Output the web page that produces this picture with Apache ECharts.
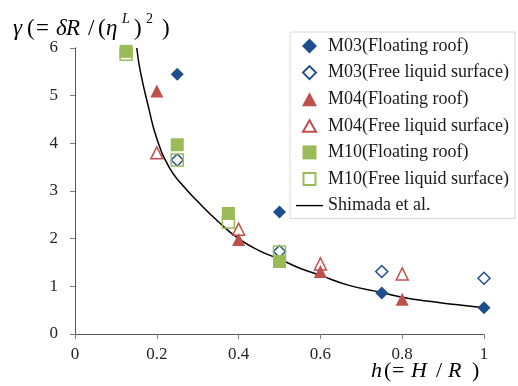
<!DOCTYPE html>
<html>
<head>
<meta charset="utf-8">
<script src="https://cdn.jsdelivr.net/npm/echarts@6/dist/echarts.min.js"></script>
<style>
  html, body { margin: 0; padding: 0; background: #fff; }
  #chart { width: 518px; height: 386px; }
</style>
</head>
<body>
<div id="chart"></div>
<script>
  // h = H/R positions of each model
  var hM03 = [0.25, 0.5, 0.75, 1.0];
  var hM04 = [0.2, 0.4, 0.6, 0.8];
  var hM10 = [0.125, 0.25, 0.375, 0.5];

  var m03Roof = [5.45, 2.56, 0.86, 0.55];
  var m03Free = [3.65, 1.73, 1.31, 1.17];
  var m04Roof = [5.1, 1.98, 1.31, 0.73];
  var m04Free = [3.8, 2.2, 1.47, 1.26];
  var m10Roof = [5.93, 3.97, 2.53, 1.52];
  var m10Free = [5.87, 3.65, 2.35, 1.72];

  // Shimada et al. curve
  var shimadaH = [0.151, 0.16, 0.18, 0.2, 0.23, 0.26, 0.3, 0.35, 0.4, 0.45, 0.5, 0.55, 0.6, 0.67, 0.75, 0.8, 0.86, 0.93, 1.0];
  var shimadaG = [6.0, 5.5, 4.75, 4.1, 3.5, 3.15, 2.78, 2.36, 2.0, 1.75, 1.57, 1.38, 1.23, 1.02, 0.87, 0.77, 0.69, 0.62, 0.55];

  var xTicks = [0, 0.2, 0.4, 0.6, 0.8, 1];
  var yTicks = [0, 1, 2, 3, 4, 5, 6];

  var names = [
    'M03(Floating roof)', 'M03(Free liquid surface)',
    'M04(Floating roof)', 'M04(Free liquid surface)',
    'M10(Floating roof)', 'M10(Free liquid surface)',
    'Shimada et al.'
  ];

  function pairs(xs, ys) {
    return xs.map(function (x, i) { return [x, ys[i]]; });
  }

  var blue = '#1F4E8C';
  var red = '#C0504D';
  var green = '#9BBB59';
  var serif = '"Liberation Serif", "DejaVu Serif", serif';

  function filled(name, xs, ys, symbol, color, size) {
    return {
      name: name, type: 'scatter', data: pairs(xs, ys),
      symbol: symbol, symbolSize: size,
      itemStyle: { color: color, opacity: 1 }
    };
  }
  function hollow(name, xs, ys, symbol, color, size) {
    return {
      name: name, type: 'scatter', data: pairs(xs, ys),
      symbol: symbol, symbolSize: size,
      itemStyle: { color: 'rgba(255,255,255,0)', borderColor: color, borderWidth: 1.5, opacity: 1 }
    };
  }

  // one glyph of an equation-style title
  function glyph(t, x, y, size, italic) {
    return {
      type: 'text', x: x, y: y,
      style: {
        text: t, fill: '#000', verticalAlign: 'middle',
        font: (italic ? 'italic ' : '') + size + 'px ' + serif
      }
    };
  }

  // legend icons padded to the full 27x15 icon box so they keep their shape
  var pad = 'M0,0M27,15';
  var legendIcons = [
    'path://' + pad + 'M13.5,0L21,7.5L13.5,15L6,7.5Z',
    'path://' + pad + 'M13.5,1L20,7.5L13.5,14L7,7.5Z',
    'path://' + pad + 'M13.5,0.5L21,14.5L6,14.5Z',
    'path://' + pad + 'M13.5,2L20,13.5L7,13.5Z',
    'path://' + pad + 'M6.5,0.5H20.5V14.5H6.5Z',
    'path://' + pad + 'M7.5,1.5H19.5V13.5H7.5Z',
    'path://M0,6.8H27V8.2H0Z'
  ];
  var legendData = names.map(function (n, i) {
    return { name: n, icon: legendIcons[i] };
  });

  var chart = echarts.init(document.getElementById('chart'));
  chart.setOption({
    animation: false,
    grid: { left: 75, right: 34, top: 48, bottom: 52 },
    xAxis: [{
      type: 'value', min: 0, max: 1, interval: 0.2,
      axisLine: { lineStyle: { color: '#A0A0A0', width: 1 } },
      axisTick: { length: 5, lineStyle: { color: '#808080' } },
      axisLabel: {
        margin: 12, color: '#262626', fontFamily: serif, fontSize: 17,
        formatter: function (v) { return xTicks.indexOf(v) >= 0 ? String(v) : ''; }
      },
      splitLine: { show: false }
    }, {
      type: 'value', position: 'top', min: 0, max: 1,
      axisLine: { show: true, lineStyle: { color: '#595959', width: 1 } },
      axisTick: { show: false }, axisLabel: { show: false }, splitLine: { show: false }
    }],
    yAxis: [{
      type: 'value', min: 0, max: 6, interval: 1,
      axisLine: { show: true, lineStyle: { color: '#A0A0A0', width: 1 } },
      axisTick: { show: true, length: 5, lineStyle: { color: '#808080' } },
      axisLabel: {
        margin: 17, color: '#262626', fontFamily: serif, fontSize: 17,
        formatter: function (v) { return yTicks.indexOf(v) >= 0 ? String(v) : ''; }
      },
      splitLine: { show: false }
    }, {
      type: 'value', position: 'right', min: 0, max: 6,
      axisLine: { show: true, lineStyle: { color: '#595959', width: 1 } },
      axisTick: { show: false }, axisLabel: { show: false }, splitLine: { show: false }
    }],
    legend: {
      orient: 'vertical', left: 290, top: 32,
      padding: [5, 6, 4, 5],
      itemWidth: 27, itemHeight: 15, itemGap: 8.6,
      backgroundColor: '#fff', borderColor: '#D9D9D9', borderWidth: 1,
      textStyle: { fontFamily: serif, fontSize: 18, lineHeight: 18, color: '#1a1a1a' },
      data: legendData
    },
    graphic: [
      // y title: γ(= δR /(η^L)^2)
      glyph('γ', 13, 29, 23, true),
      glyph('(', 27, 29, 23, false),
      glyph('=', 36, 29, 23, false),
      glyph('δ', 56, 29, 23, true),
      glyph('R', 66, 29, 23, true),
      glyph('/', 88, 29, 23, false),
      glyph('(', 98, 29, 23, false),
      glyph('η', 106, 29, 23, true),
      glyph('L', 122, 19, 14, true),
      glyph(')', 134, 29, 23, false),
      glyph('2', 146, 19, 14, false),
      glyph(')', 162, 29, 23, false),
      // x title: h(= H / R)
      glyph('h', 371, 371, 22, true),
      glyph('(', 384, 371, 22, false),
      glyph('=', 392, 371, 22, false),
      glyph('H', 411, 371, 22, true),
      glyph('/', 436, 371, 22, false),
      glyph('R', 448, 371, 22, true),
      glyph(')', 472, 371, 22, false)
    ],
    series: [
      filled(names[0], hM03, m03Roof, 'diamond', blue, 13),
      hollow(names[1], hM03, m03Free, 'diamond', blue, 12),
      filled(names[2], hM04, m04Roof, 'triangle', red, 13),
      hollow(names[3], hM04, m04Free, 'triangle', red, 12),
      filled(names[4], hM10, m10Roof, 'rect', green, 13),
      hollow(names[5], hM10, m10Free, 'rect', green, 12),
      {
        name: names[6], type: 'line', data: pairs(shimadaH, shimadaG),
        smooth: true, symbol: 'none',
        lineStyle: { color: '#000', width: 1.5 }, itemStyle: { color: '#000' },
        z: 1
      }
    ]
  });
</script>
</body>
</html>
